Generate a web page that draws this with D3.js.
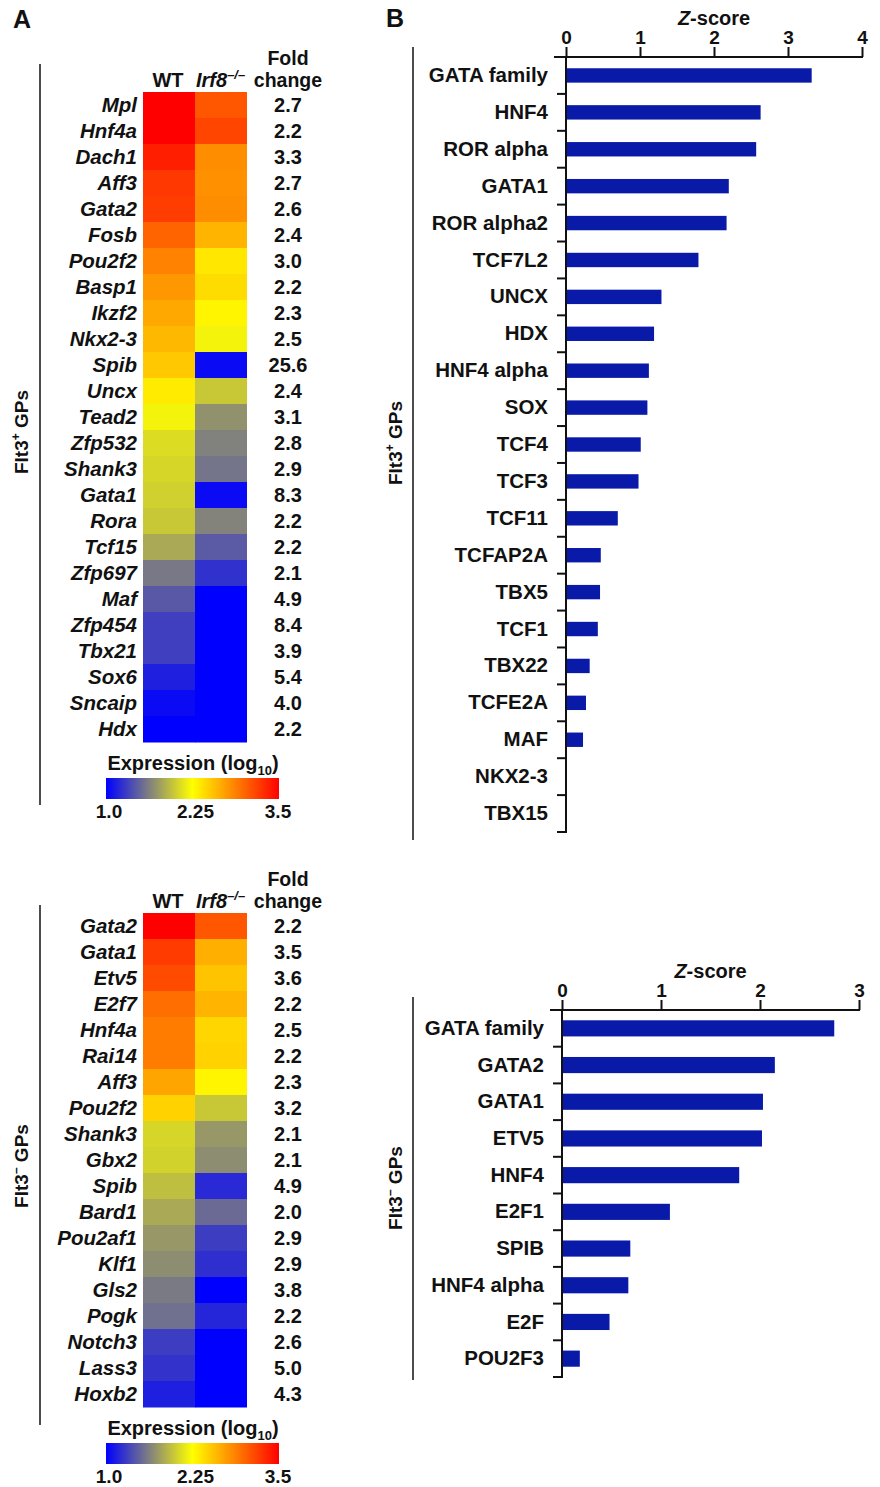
<!DOCTYPE html>
<html><head><meta charset="utf-8">
<script src="https://cdn.jsdelivr.net/npm/d3@7"></script>
<style>
body{margin:0;background:#fff}
text{font-family:Arial,"Liberation Sans",sans-serif;font-weight:bold;fill:#111}
</style>
</head><body>
<svg id="c" width="880" height="1487"></svg>
<script>
// ---------- Panel A data ----------
const genesTop = ["Mpl","Hnf4a","Dach1","Aff3","Gata2","Fosb","Pou2f2","Basp1","Ikzf2","Nkx2-3","Spib","Uncx","Tead2","Zfp532","Shank3","Gata1","Rora","Tcf15","Zfp697","Maf","Zfp454","Tbx21","Sox6","Sncaip","Hdx"];
const wtTop = [3.5,3.5,3.35,3.23,3.2,3.01,2.86,2.76,2.67,2.6,2.52,2.35,2.19,2.08,2.05,2.02,1.98,1.83,1.59,1.43,1.31,1.31,1.15,1.05,1.0];
const koTop = [3.08,3.16,2.81,2.79,2.81,2.62,2.37,2.42,2.3,2.19,1.05,1.98,1.71,1.63,1.57,1.05,1.64,1.44,1.24,1.0,1.0,1.0,1.0,1.0,1.0];
const foldTop = ["2.7","2.2","3.3","2.7","2.6","2.4","3.0","2.2","2.3","2.5","25.6","2.4","3.1","2.8","2.9","8.3","2.2","2.2","2.1","4.9","8.4","3.9","5.4","4.0","2.2"];

const genesBot = ["Gata2","Gata1","Etv5","E2f7","Hnf4a","Rai14","Aff3","Pou2f2","Shank3","Gbx2","Spib","Bard1","Pou2af1","Klf1","Gls2","Pogk","Notch3","Lass3","Hoxb2"];
const wtBot = [3.5,3.21,3.13,2.96,2.89,2.89,2.69,2.47,2.05,2.03,1.93,1.83,1.74,1.69,1.6,1.55,1.3,1.25,1.15];
const koBot = [3.08,2.64,2.54,2.62,2.45,2.47,2.3,1.98,1.74,1.69,1.2,1.52,1.3,1.23,1.0,1.18,1.0,1.0,1.0];
const foldBot = ["2.2","3.5","3.6","2.2","2.5","2.2","2.3","3.2","2.1","2.1","4.9","2.0","2.9","2.9","3.8","2.2","2.6","5.0","4.3"];

const colorDomain = [1.0, 2.25, 3.5];
const colorRange = ["#0000ff","#ffff00","#ff0000"];
const colorTicks = ["1.0","2.25","3.5"];

// ---------- Panel B data ----------
const motifsTop = ["GATA family","HNF4","ROR alpha","GATA1","ROR alpha2","TCF7L2","UNCX","HDX","HNF4 alpha","SOX","TCF4","TCF3","TCF11","TCFAP2A","TBX5","TCF1","TBX22","TCFE2A","MAF","NKX2-3","TBX15"];
const zTop = [3.32,2.63,2.57,2.2,2.17,1.79,1.29,1.19,1.12,1.1,1.01,0.98,0.7,0.47,0.46,0.43,0.32,0.27,0.23,0,0];
const zTicksTop = [0,1,2,3,4];

const motifsBot = ["GATA family","GATA2","GATA1","ETV5","HNF4","E2F1","SPIB","HNF4 alpha","E2F","POU2F3"];
const zBot = [2.75,2.15,2.03,2.02,1.79,1.09,0.69,0.67,0.48,0.18];
const zTicksBot = [0,1,2,3];

// ---------- drawing ----------
const svg = d3.select("#c");
const color = d3.scaleLinear().domain(colorDomain).range(colorRange);

svg.append("text").attr("x",13).attr("y",28).style("font-size","25px").text("A");
svg.append("text").attr("x",386).attr("y",27).style("font-size","25px").text("B");

function groupLabel(x, y, sign) {
  const t = svg.append("text").attr("transform",`translate(${x},${y}) rotate(-90)`)
    .attr("text-anchor","middle").style("font-size","19px");
  t.append("tspan").text("Flt3");
  t.append("tspan").text(sign).style("font-size","12px").attr("dy",-8);
  t.append("tspan").text(" GPs").attr("dy",8);
}

function heatmap(genes, wt, ko, fold, top, lineTop, lineBot, labelY, gradId) {
  const g = svg.append("g");
  const x = d3.scaleBand().domain(["WT","KO"]).range([143,247]);
  const y = d3.scaleBand().domain(genes).range([top, top + genes.length*26]);
  const rows = genes.map((n,i)=>({n, wt:wt[i], ko:ko[i], f:fold[i]}));
  g.selectAll(".wt").data(rows).join("rect")
    .attr("x",x("WT")).attr("y",d=>y(d.n)).attr("width",x.bandwidth()+0.5).attr("height",y.bandwidth()+0.5)
    .attr("fill",d=>color(d.wt));
  g.selectAll(".ko").data(rows).join("rect")
    .attr("x",x("KO")).attr("y",d=>y(d.n)).attr("width",x.bandwidth()).attr("height",y.bandwidth()+0.5)
    .attr("fill",d=>color(d.ko));
  g.selectAll(".gl").data(rows).join("text")
    .attr("x",137).attr("y",d=>y(d.n)+y.bandwidth()/2).attr("dy","0.34em")
    .attr("text-anchor","end").style("font-size","20.5px").style("font-style","italic").text(d=>d.n);
  g.selectAll(".fl").data(rows).join("text")
    .attr("x",288).attr("y",d=>y(d.n)+y.bandwidth()/2).attr("dy","0.34em")
    .attr("text-anchor","middle").style("font-size","20px").text(d=>d.f);
  // header
  g.append("text").attr("x",x("WT")+x.bandwidth()/2-1).attr("y",top-5).attr("text-anchor","middle").style("font-size","20px").text("WT");
  const ir = g.append("text").attr("x",x("KO")+1).attr("y",top-5).style("font-size","20px").style("font-style","italic");
  ir.append("tspan").text("Irf8");
  ir.append("tspan").text("–/–").style("font-size","13px").attr("dy",-8);
  g.append("text").attr("x",288).attr("y",top-27).attr("text-anchor","middle").style("font-size","19.5px").text("Fold");
  g.append("text").attr("x",288).attr("y",top-5).attr("text-anchor","middle").style("font-size","19.5px").text("change");
  // color bar
  const bottom = top + genes.length*26;
  const cx = d3.scaleLinear().domain([colorDomain[0], colorDomain[2]]).range([106,279]);
  const grad = svg.append("defs").append("linearGradient").attr("id",gradId);
  d3.range(0,1.0001,0.05).forEach(t=>{
    grad.append("stop").attr("offset",t).attr("stop-color",color(colorDomain[0]+t*(colorDomain[2]-colorDomain[0])));
  });
  const tt = g.append("text").attr("x",193).attr("y",bottom+28).attr("text-anchor","middle").style("font-size","20px");
  tt.append("tspan").text("Expression (log");
  tt.append("tspan").text("10").style("font-size","13px").attr("dy",5);
  tt.append("tspan").text(")").attr("dy",-5);
  g.append("rect").attr("x",cx.range()[0]).attr("y",bottom+36).attr("width",cx.range()[1]-cx.range()[0]).attr("height",21).attr("fill",`url(#${gradId})`);
  g.selectAll(".ct").data(colorTicks).join("text")
    .attr("x",(d,i)=>cx(+d)+(i===2?-1:3)).attr("y",bottom+76).attr("text-anchor","middle").style("font-size","19px").text(d=>d);
  // bracket
  g.append("line").attr("x1",40).attr("x2",40).attr("y1",lineTop).attr("y2",lineBot).attr("stroke","#111").attr("stroke-width",1.5);
  groupLabel(28, labelY, lineTop < 500 ? "+" : "–");
}

heatmap(genesTop, wtTop, koTop, foldTop, 92, 64, 805, 432, "g1");
heatmap(genesBot, wtBot, koBot, foldBot, 913, 905, 1425, 1166, "g2");

function barChart(cats, vals, ticks, x0, x1, yTop, yBot, pad, lineTop, lineBot, labelY, sign) {
  const g = svg.append("g");
  const x = d3.scaleLinear().domain([0, ticks[ticks.length-1]]).range([x0,x1]);
  const y = d3.scaleBand().domain(cats).range([yTop,yBot]).paddingInner(pad).paddingOuter(pad/2);
  const data = cats.map((c,i)=>({c, v:vals[i]}));
  g.selectAll(".bar").data(data).join("rect")
    .attr("x",x(0)).attr("y",d=>y(d.c)).attr("width",d=>x(d.v)-x(0)).attr("height",y.bandwidth())
    .attr("fill","#0a1aa8");
  const ax = g.append("g").attr("transform",`translate(0,${yTop})`)
    .call(d3.axisTop(x).tickValues(ticks).tickFormat(d3.format("d")).tickSize(10).tickSizeOuter(0).tickPadding(3));
  ax.select(".domain").remove();
  ax.selectAll(".tick line").attr("stroke","#111").attr("stroke-width",2);
  ax.selectAll(".tick text").style("font-size","19px").style("font-family","Arial, 'Liberation Sans', sans-serif").attr("fill","#111");
  g.append("line").attr("x1",x0-12).attr("x2",x1+1).attr("y1",yTop).attr("y2",yTop).attr("stroke","#111").attr("stroke-width",2);
  g.append("line").attr("x1",x0).attr("x2",x0).attr("y1",yTop).attr("y2",yBot+1).attr("stroke","#111").attr("stroke-width",2);
  const bounds = d3.range(1, cats.length+1).map(i=>yTop + i*y.step());
  g.selectAll(".yt").data(bounds).join("line")
    .attr("x1",x0-9).attr("x2",x0).attr("y1",d=>d).attr("y2",d=>d).attr("stroke","#111").attr("stroke-width",2);
  g.selectAll(".cl").data(data).join("text")
    .attr("x",x0-18).attr("y",d=>y(d.c)+y.bandwidth()/2).attr("dy","0.32em")
    .attr("text-anchor","end").style("font-size","20.5px").text(d=>d.c);
  const zt = g.append("text").attr("x",(x0+x1)/2+0).attr("y",yTop-32).attr("text-anchor","middle").style("font-size","20px");
  zt.append("tspan").text("Z").style("font-style","italic");
  zt.append("tspan").text("-score");
  g.append("line").attr("x1",413).attr("x2",413).attr("y1",lineTop).attr("y2",lineBot).attr("stroke","#111").attr("stroke-width",1.5);
  groupLabel(402, labelY, sign);
}

barChart(motifsTop, zTop, zTicksTop, 566, 862, 57, 832, 0.61, 47, 840, 443, "+");
barChart(motifsBot, zBot, zTicksBot, 562, 859, 1010, 1377, 0.56, 997, 1380, 1188, "–");
</script>
</body></html>
